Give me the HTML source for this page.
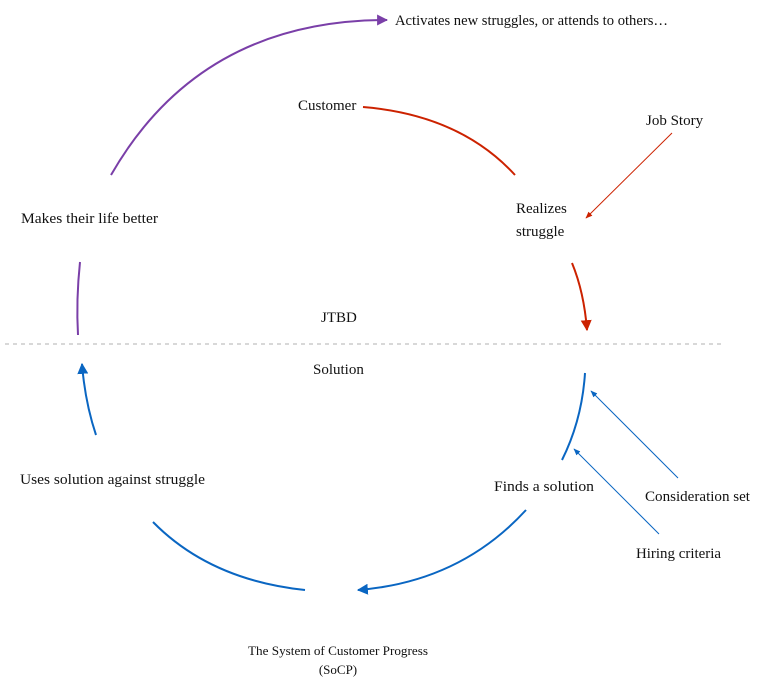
<!DOCTYPE html>
<html><head><meta charset="utf-8"><style>
body{margin:0;background:#fff}
svg{display:block;font-family:"Liberation Serif",serif;font-size:15px;fill:#111}
</style></head><body>
<svg width="767" height="683" viewBox="0 0 767 683">
<defs>
<marker id="r" viewBox="0 0 10 10" refX="9" refY="5" markerWidth="5.5" markerHeight="5.5" orient="auto"><path d="M0,0L10,5L0,10z" fill="#cc2200"/></marker>
<marker id="p" viewBox="0 0 10 10" refX="9" refY="5" markerWidth="5.5" markerHeight="5.5" orient="auto"><path d="M0,0L10,5L0,10z" fill="#7a3fa8"/></marker>
<marker id="b" viewBox="0 0 10 10" refX="9" refY="5" markerWidth="5.5" markerHeight="5.5" orient="auto"><path d="M0,0L10,5L0,10z" fill="#0a66c2"/></marker>
<marker id="rs" viewBox="0 0 10 10" refX="9" refY="5" markerWidth="7" markerHeight="7" orient="auto"><path d="M0,1L10,5L0,9z" fill="#cc2200"/></marker>
<marker id="bs" viewBox="0 0 10 10" refX="9" refY="5" markerWidth="7" markerHeight="7" orient="auto"><path d="M0,1L10,5L0,9z" fill="#0a66c2"/></marker>
</defs>
<line x1="5" y1="344" x2="725" y2="344" stroke="#ccc" stroke-width="1.5" stroke-dasharray="4,4"/>
<g fill="none" stroke-width="2">
<path d="M363,107 Q460,115 515,175" stroke="#cc2200"/>
<path d="M572,263 Q584,292 587,330" stroke="#cc2200" marker-end="url(#r)"/>
<path d="M111,175 Q200,20 387,20" stroke="#7a3fa8" marker-end="url(#p)"/>
<path d="M78,335 Q76,300 80,262" stroke="#7a3fa8"/>
<path d="M585,373 Q582,420 562,460" stroke="#0a66c2"/>
<path d="M526,510 Q460,582 358,590" stroke="#0a66c2" marker-end="url(#b)"/>
<path d="M305,590 Q210,580 153,522" stroke="#0a66c2"/>
<path d="M96,435 Q85,402 82,364" stroke="#0a66c2" marker-end="url(#b)"/>
</g>
<line x1="672" y1="133" x2="586" y2="218" stroke="#cc2200" stroke-width="1" marker-end="url(#rs)"/>
<line x1="678" y1="478" x2="591" y2="391" stroke="#0a66c2" stroke-width="1" marker-end="url(#bs)"/>
<line x1="659" y1="534" x2="574" y2="449" stroke="#0a66c2" stroke-width="1" marker-end="url(#bs)"/>
<text x="395" y="25" textLength="273" lengthAdjust="spacingAndGlyphs">Activates new struggles, or attends to others…</text>
<text x="298" y="110">Customer</text>
<text x="646" y="125">Job Story</text>
<text x="516" y="213">Realizes</text>
<text x="516" y="236">struggle</text>
<text x="21" y="223" textLength="137" lengthAdjust="spacingAndGlyphs">Makes their life better</text>
<text x="321" y="322">JTBD</text>
<text x="313" y="374">Solution</text>
<text x="20" y="484" textLength="185" lengthAdjust="spacingAndGlyphs">Uses solution against struggle</text>
<text x="494" y="491" textLength="100" lengthAdjust="spacingAndGlyphs">Finds a solution</text>
<text x="645" y="501" textLength="105" lengthAdjust="spacingAndGlyphs">Consideration set</text>
<text x="636" y="558" textLength="85" lengthAdjust="spacingAndGlyphs">Hiring criteria</text>
<text x="338" y="655" text-anchor="middle" font-size="13" textLength="180" lengthAdjust="spacingAndGlyphs">The System of Customer Progress</text>
<text x="338" y="674" text-anchor="middle" font-size="13">(SoCP)</text>
</svg>
</body></html>
